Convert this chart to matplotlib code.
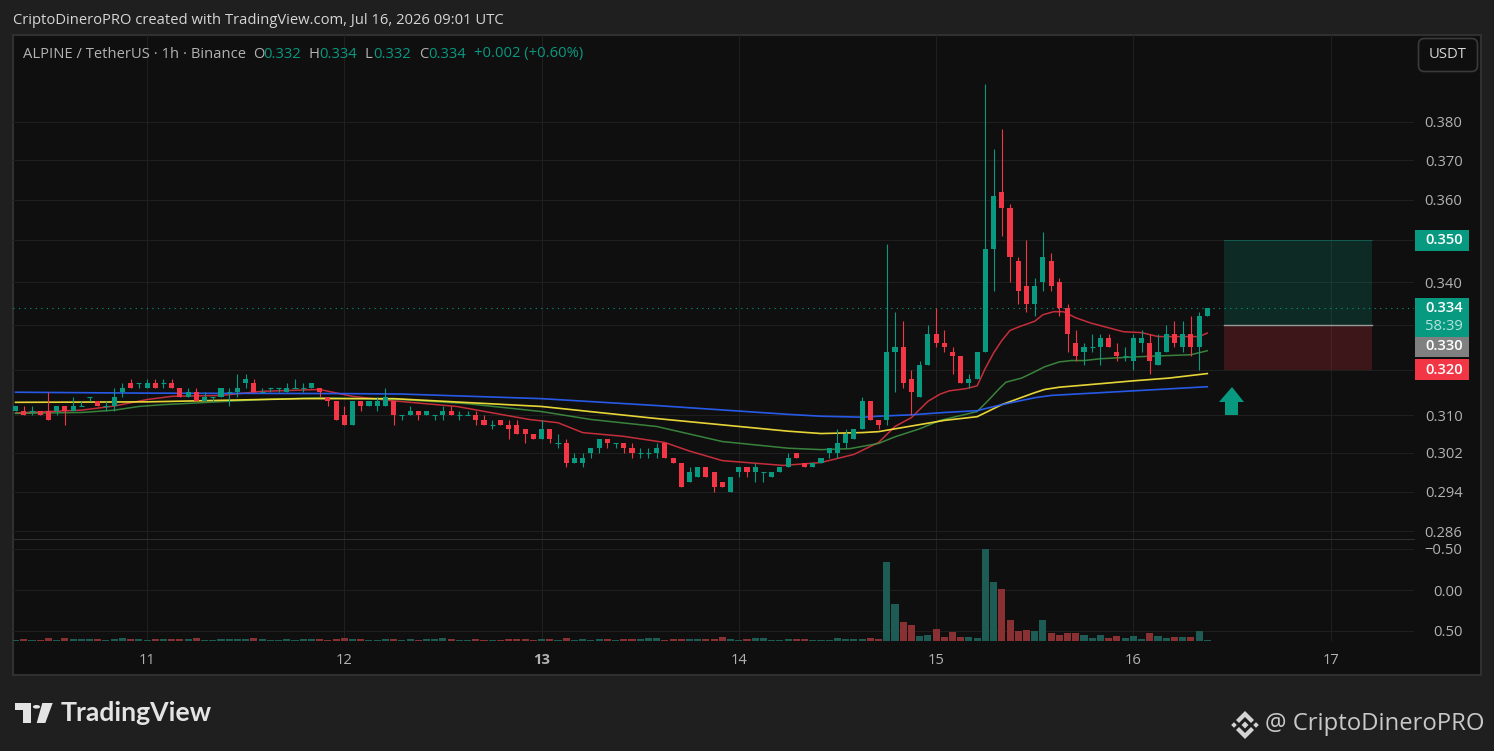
import matplotlib
matplotlib.use("Agg")
import matplotlib.pyplot as plt
from matplotlib.patches import Rectangle, Polygon, Circle, FancyBboxPatch
from matplotlib.ticker import NullLocator, NullFormatter
import numpy as np

plt.rcParams['font.family'] = ['Open Sans', 'DejaVu Sans']

W, H = 1494, 751

# candle prices in thousandths (tick size is 0.001), one candle per hour
opens = [311, 311, 311, 311, 311, 311, 312, 311, 312, 314, 313, 312, 312, 315, 317, 317, 316, 317, 317, 317,
         316, 314, 315, 313, 314, 314, 315, 315, 317, 317, 315, 316, 316, 315, 316, 316, 316, 316, 314, 313,
         310, 308, 313, 312, 312, 312, 313, 310, 310, 311, 310, 310, 310, 311, 310, 310, 310, 309, 308, 309,
         308, 308, 307, 306, 305, 307, 304, 304, 300, 300, 302, 303, 305, 304, 304, 303, 302, 302, 302, 304,
         301, 300, 296, 297, 299, 298, 296, 294, 298, 299, 298, 298, 297, 298, 299, 302, 300, 299, 300, 302,
         302, 304, 305, 307, 313, 309, 309, 324, 325, 318, 314, 321, 328, 326, 324, 323, 317, 318, 324, 348,
         362, 358, 345, 339, 335, 340, 345, 340, 334, 326, 324, 325, 325, 327, 324, 323, 322, 326, 326, 321,
         324, 328, 325, 328, 325, 332]
highs = [312, 312, 312, 311, 315, 312, 312, 314, 313, 314, 313, 313, 316, 317, 318, 317, 318, 318, 318, 318,
         316, 316, 316, 315, 314, 316, 316, 319, 319, 318, 316, 316, 316, 317, 318, 317, 317, 316, 314, 313,
         312, 313, 313, 313, 314, 316, 313, 310, 312, 311, 311, 310, 312, 312, 311, 311, 311, 310, 309, 309,
         309, 309, 307, 306, 309, 307, 306, 305, 302, 302, 303, 305, 305, 304, 304, 304, 303, 303, 304, 304,
         301, 300, 299, 299, 299, 298, 296, 297, 299, 299, 300, 298, 298, 299, 302, 302, 300, 300, 301, 303,
         307, 307, 307, 314, 313, 309, 349, 333, 331, 320, 322, 330, 334, 329, 325, 323, 319, 324, 390, 373,
         378, 359, 346, 350, 341, 352, 347, 341, 335, 329, 326, 328, 328, 328, 326, 325, 328, 329, 328, 328,
         330, 331, 331, 332, 333, 334]
lows = [311, 310, 310, 310, 309, 310, 308, 311, 312, 313, 312, 311, 311, 314, 316, 316, 316, 316, 316, 316,
        314, 314, 313, 313, 313, 314, 312, 314, 316, 315, 315, 315, 315, 315, 316, 315, 316, 314, 312, 309,
        308, 308, 311, 312, 311, 312, 308, 309, 310, 309, 310, 309, 309, 310, 309, 310, 308, 308, 307, 308,
        305, 306, 304, 305, 305, 304, 303, 299, 300, 299, 301, 302, 303, 303, 302, 301, 301, 301, 301, 301,
        300, 295, 296, 297, 297, 294, 295, 294, 297, 297, 296, 296, 297, 298, 299, 301, 299, 299, 300, 301,
        301, 303, 305, 307, 309, 307, 308, 315, 316, 310, 314, 321, 325, 324, 319, 317, 316, 318, 324, 338,
        351, 340, 335, 333, 332, 338, 338, 332, 324, 322, 321, 324, 321, 325, 322, 322, 320, 324, 319, 321,
        324, 325, 324, 323, 320, 332]
closes = [312, 310, 311, 310, 309, 312, 311, 312, 312, 314, 312, 312, 314, 316, 316, 317, 317, 316, 317, 316,
          314, 315, 313, 314, 314, 316, 315, 316, 318, 315, 315, 316, 316, 316, 316, 316, 317, 315, 313, 309,
          308, 313, 312, 313, 313, 314, 310, 310, 311, 310, 311, 310, 311, 310, 310, 310, 309, 308, 308, 308,
          307, 306, 306, 305, 307, 305, 304, 300, 301, 301, 303, 305, 304, 304, 303, 302, 302, 302, 303, 301,
          300, 295, 298, 299, 297, 295, 295, 297, 299, 298, 299, 298, 298, 299, 301, 301, 299, 300, 301, 303,
          304, 306, 307, 313, 309, 308, 324, 325, 317, 315, 321, 328, 326, 325, 323, 317, 318, 324, 348, 361,
          358, 346, 338, 335, 339, 346, 339, 334, 328, 323, 325, 325, 327, 325, 323, 323, 327, 327, 322, 324,
          328, 326, 328, 325, 332, 334]

# volume bars, read as height of the bar
volume = [1, 2, 1, 1, 3, 1, 3, 2, 2, 2, 2, 1, 2, 3, 2, 2, 1, 2, 2, 2,
          2, 2, 3, 1, 1, 2, 2, 2, 2, 3, 2, 1, 1, 2, 1, 2, 2, 2, 1, 2,
          3, 2, 2, 1, 1, 2, 2, 1, 2, 1, 2, 2, 3, 2, 1, 1, 2, 1, 1, 1,
          2, 2, 2, 1, 2, 2, 1, 3, 1, 2, 1, 2, 2, 1, 2, 2, 2, 3, 3, 1,
          2, 2, 2, 2, 2, 2, 4, 2, 1, 2, 3, 3, 1, 1, 2, 2, 2, 1, 1, 1,
          3, 2, 2, 2, 3, 2, 79, 37, 19, 16, 5, 6, 12, 4, 9, 4, 4, 3, 92, 59,
          52, 21, 10, 11, 10, 21, 8, 6, 8, 8, 6, 3, 6, 3, 5, 3, 5, 2, 8, 5,
          3, 4, 4, 4, 10, 1]

# moving averages at these candle positions
red_x = [0, 8, 12, 16, 19, 25, 30, 37, 41, 45.5, 53.7, 62.5, 66, 69, 74, 79, 82, 86, 93.4, 98, 102, 105, 107, 109,
         111, 112.5, 113.6, 115.7, 117, 118, 119, 120, 121, 122.2, 124, 125, 126.3, 127.5, 129, 130.8, 132, 134.8,
         137, 139, 144, 145]
red_y = [0.3105, 0.3111, 0.3120, 0.3134, 0.3141, 0.3143, 0.3152, 0.3156, 0.3141, 0.3132, 0.3119, 0.3091, 0.3084,
         0.3063, 0.3055, 0.3042, 0.3024, 0.3004, 0.2994, 0.3000, 0.3017, 0.3042, 0.3076, 0.3095, 0.3130, 0.3146,
         0.3153, 0.3158, 0.3164, 0.3203, 0.3237, 0.3265, 0.3288, 0.3297, 0.3309, 0.3324, 0.3331, 0.3331, 0.3317,
         0.3305, 0.3299, 0.3285, 0.3283, 0.3274, 0.3274, 0.3282]
green_x = [0, 8, 12, 15, 18, 30, 37, 47, 55, 64, 70, 78, 86, 94, 98, 101.5, 105, 107, 110, 112.5, 117, 118.5, 119.7,
           120.5, 122.4, 124, 125.2, 127, 128.5, 130, 132, 136, 140, 143, 145]
green_y = [0.3104, 0.3106, 0.3111, 0.3119, 0.3123, 0.3134, 0.3138, 0.3134, 0.3125, 0.3108, 0.3091, 0.3076, 0.3044,
           0.3030, 0.3027, 0.3029, 0.3040, 0.3054, 0.3071, 0.3089, 0.3108, 0.3135, 0.3158, 0.3172, 0.3181, 0.3195,
           0.3206, 0.3217, 0.3220, 0.3220, 0.3224, 0.3228, 0.3231, 0.3233, 0.3242]
yellow_x = [0, 16, 35, 40, 46, 64, 78, 94, 98, 103, 105, 109, 113, 117, 120, 122, 124, 125.2, 127, 132.2, 136, 140.3, 145]
yellow_y = [0.3128, 0.3129, 0.3136, 0.3136, 0.3136, 0.3119, 0.3093, 0.3066, 0.3061, 0.3063, 0.3065, 0.3077, 0.3089,
            0.3097, 0.3123, 0.3136, 0.3149, 0.3156, 0.3161, 0.3169, 0.3175, 0.3181, 0.3191]
blue_x = [0, 16, 40, 47, 64, 78, 94, 98, 103, 105, 109, 113, 117, 120, 124, 126, 132, 136, 140, 145]
blue_y = [0.3150, 0.3148, 0.3147, 0.3146, 0.3136, 0.3121, 0.3102, 0.3098, 0.3096, 0.3098, 0.3101, 0.3106, 0.3110,
          0.3123, 0.3138, 0.3143, 0.3149, 0.3153, 0.3157, 0.3162]

day_pos = [16, 40, 64, 88, 112, 136, 160]
day_labels = ['11', '12', '13', '14', '15', '16', '17']
price_ticks = [0.380, 0.370, 0.360, 0.350, 0.340, 0.330, 0.320, 0.310, 0.302, 0.294, 0.286]
price_labels = ['0.380', '0.370', '0.360', '', '0.340', '', '', '0.310', '0.302', '0.294', '0.286']
vol_ticks = [10, 51, 92]
vol_labels = ['0.50', '0.00', '\u22120.50']

# long position box
box_start, box_end = 147, 165.1
entry, stop, target = 0.330, 0.320, 0.350

# colours
UP = '#089981'
DOWN = '#f23645'
UP_VOL = '#1c5c54'
DOWN_VOL = '#883032'
BG = '#1f1f1f'
PANE = '#0f0f0f'
GRID = '#1f1f1f'
BORDER = '#303030'
TXT = '#b2b2b2'
FS = 10.6


def fx(x):
    return x / W


def fy(y):
    return 1 - y / H


def px_text(x, y, s, **kw):
    kw.setdefault('va', 'center')
    kw.setdefault('fontsize', FS)
    kw.setdefault('color', TXT)
    return fig.text(fx(x), fy(y), s, **kw)


def px_rect(x0, y0, x1, y1, **kw):
    kw.setdefault('linewidth', 0)
    r = Rectangle((fx(x0), fy(y1)), fx(x1 - x0), (y1 - y0) / H, transform=fig.transFigure, **kw)
    fig.add_artist(r)
    return r


def px_poly(points, **kw):
    p = Polygon([(fx(a), fy(b)) for a, b in points], transform=fig.transFigure, linewidth=0, **kw)
    fig.add_artist(p)
    return p


fig = plt.figure(figsize=(W / 100, H / 100), dpi=100, facecolor=BG)

# chart panel behind the axes
px_rect(13, 35, 1481, 675, facecolor=PANE, edgecolor=BORDER, linewidth=1.5, zorder=-5)

ax = fig.add_axes([fx(13), fy(539), fx(1414 - 13), (539 - 35) / H])
ax_v = fig.add_axes([fx(13), fy(641), fx(1414 - 13), (641 - 539) / H], sharex=ax)
ax.set_facecolor('none')
ax_v.set_facecolor('none')

o = np.array(opens) / 1000
h = np.array(highs) / 1000
l = np.array(lows) / 1000
c = np.array(closes) / 1000
x = np.arange(len(o))
col = [UP if a >= b else DOWN for a, b in zip(c, o)]

ax.set_yscale('log')
ax.set_xlim(-0.31, 170.15)
ax.set_ylim(0.2845, 0.4036)

# moving averages go under the candles
ax.plot(red_x, red_y, color=DOWN, lw=1.1, alpha=0.8, zorder=2)
ax.plot(green_x, green_y, color='#43a047', lw=1.1, alpha=0.8, zorder=2)
ax.plot(yellow_x, yellow_y, color='#ffeb3b', lw=1.2, alpha=0.9, zorder=2)
ax.plot(blue_x, blue_y, color='#2962ff', lw=1.2, alpha=0.9, zorder=2)

# candles
ax.vlines(x, l, h, colors=col, lw=0.8, zorder=3)
ax.bar(x, np.abs(c - o), bottom=np.minimum(o, c), width=0.62, color=col, linewidth=0, zorder=4)
flat = o == c
ax.hlines(o[flat], x[flat] - 0.31, x[flat] + 0.31, colors=UP, lw=0.8, zorder=4)

# last price line
ax.axhline(closes[-1] / 1000, color=UP, lw=0.8, ls=(0, (1, 4)), zorder=2)

# position box
ax.fill_between([box_start, box_end], entry, target, color=UP, alpha=0.2, linewidth=0, zorder=1)
ax.fill_between([box_start, box_end], stop, entry, color=DOWN, alpha=0.2, linewidth=0, zorder=1)
ax.plot([box_start, box_end], [entry, entry], color='#9a9a9a', lw=1, zorder=3)
ax.plot([box_start, box_end], [target, target], color=UP, lw=0.5, alpha=0.5, zorder=3)

ax.yaxis.set_minor_locator(NullLocator())
ax.yaxis.set_minor_formatter(NullFormatter())
ax.set_yticks(price_ticks)
ax.set_yticklabels(price_labels)
ax.set_xticks(day_pos)

ax_v.bar(x, volume, width=0.86, color=[UP_VOL if a >= b else DOWN_VOL for a, b in zip(c, o)], linewidth=0, zorder=3)
ax_v.set_ylim(0, 102)
ax_v.set_yticks(vol_ticks)
ax_v.set_yticklabels(vol_labels)
ax_v.set_xticks(day_pos)
ax_v.set_xticklabels(day_labels)

for a in (ax, ax_v):
    a.grid(True, color=GRID, lw=0.75)
    a.set_axisbelow(True)
    for s in a.spines.values():
        s.set_visible(False)
    a.tick_params(axis='y', length=0, right=False, left=False, labelleft=False, labelright=True,
                  pad=35, labelsize=FS, labelcolor=TXT)
    for t in a.get_yticklabels():
        t.set_ha('right')
ax.tick_params(axis='x', length=0, labelbottom=False)
ax_v.tick_params(axis='x', length=0, pad=9, labelsize=FS, labelcolor=TXT)
ax_v.get_xticklabels()[2].set_fontweight('bold')
ax_v.spines['top'].set_visible(True)
ax_v.spines['top'].set_color(BORDER)

# header and legend row
px_text(13, 20, 'CriptoDineroPRO created with TradingView.com, Jul 16, 2026 09:01 UTC', color='#d6d6d6')
px_text(23, 54, 'ALPINE / TetherUS \u00b7 1h \u00b7 Binance')
for xp, s in [(253, 'O'), (309, 'H'), (365, 'L'), (419, 'C')]:
    px_text(xp, 54, s)
for xp, s in [(263, '0.332'), (319, '0.334'), (373, '0.332'), (428, '0.334'), (474, '+0.002 (+0.60%)')]:
    px_text(xp, 54, s, color=UP)

# USDT button
fig.add_artist(FancyBboxPatch((fx(1418.5), fy(71.5)), fx(59), 33 / H, boxstyle='round,pad=0,rounding_size=0.004',
                              transform=fig.transFigure, mutation_aspect=2, facecolor=PANE, edgecolor='#3a3a3a',
                              linewidth=1.2))
px_text(1448, 55, 'USDT', ha='center', color='#d6d6d6')

# price tags on the right
px_rect(1415, 230, 1469, 251, facecolor=UP)
px_text(1425, 240.5, '0.350', color='white', fontweight='semibold')
px_rect(1415, 298, 1469, 337, facecolor=UP)
px_text(1425, 308.5, '0.334', color='white', fontweight='semibold')
px_text(1425, 326, '58:39', color='#b6e4da')
px_rect(1415, 337, 1469, 357, facecolor='#808080')
px_text(1425, 346.5, '0.330', color='white', fontweight='semibold')
px_rect(1415, 359, 1469, 380, facecolor=DOWN)
px_text(1425, 370, '0.320', color='white', fontweight='semibold')

# up arrow under the box
px_poly([(1232, 387), (1244, 402), (1238, 402), (1238, 415), (1225, 415), (1225, 402), (1219, 402)], facecolor=UP)

# TradingView logo
LOGO = '#e4e4e4'
px_poly([(15, 703), (31, 703), (31, 723), (23, 723), (23, 710), (15, 710)], facecolor=LOGO)
fig.add_artist(Circle((fx(36.5), fy(706.8)), 3.6 / W, transform=fig.transFigure, facecolor=LOGO, linewidth=0))
px_poly([(42.3, 703), (52.7, 703), (45.3, 723), (36.7, 723)], facecolor=LOGO)
px_text(61, 713, 'TradingView', color=LOGO, fontsize=19.2, fontweight='bold', family=['Lato', 'DejaVu Sans'])

# Binance logo and handle
MARK = '#d4d4d4'
px_poly([(1245, 711), (1254, 720), (1251, 723), (1245, 717), (1239, 723), (1236, 720)], facecolor=MARK)
px_poly([(1245, 739), (1254, 730), (1251, 727), (1245, 733), (1239, 727), (1236, 730)], facecolor=MARK)
for cx, r in [(1245, 3.5), (1234, 2.8), (1256, 2.8)]:
    px_poly([(cx, 725 - r), (cx + r, 725), (cx, 725 + r), (cx - r, 725)], facecolor=MARK)
px_text(1265, 724, '@ CriptoDineroPRO', color='#c8c8c8', fontsize=17.2)

fig.savefig('out.png', dpi=100, facecolor=fig.get_facecolor())
